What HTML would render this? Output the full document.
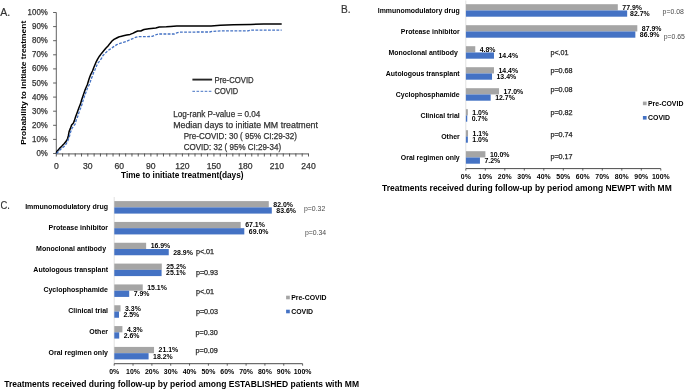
<!DOCTYPE html>
<html><head><meta charset="utf-8"><style>
html,body{margin:0;padding:0;background:#fff;width:685px;height:389px;overflow:hidden;}
svg{display:block;will-change:transform;font-family:"Liberation Sans", sans-serif;}
</style></head><body>
<svg width="685" height="389" viewBox="0 0 685 389" font-family='"Liberation Sans", sans-serif'>
<text x="0.20" y="15.90" font-size="11.6" font-weight="normal" text-anchor="start" fill="#333333" stroke="#333333" stroke-width="0.2" textLength="10.00" lengthAdjust="spacingAndGlyphs" >A.</text>
<line x1="56.30" y1="12.50" x2="56.30" y2="153.50" stroke="#505050" stroke-width="0.9" />
<line x1="53.10" y1="153.50" x2="56.30" y2="153.50" stroke="#505050" stroke-width="0.9" />
<text x="47.80" y="156.00" font-size="8.4" font-weight="normal" text-anchor="end" fill="#333333" stroke="#333333" stroke-width="0.25" textLength="11.41" lengthAdjust="spacingAndGlyphs" >0%</text>
<line x1="53.10" y1="139.40" x2="56.30" y2="139.40" stroke="#505050" stroke-width="0.9" />
<text x="47.80" y="141.90" font-size="8.4" font-weight="normal" text-anchor="end" fill="#333333" stroke="#333333" stroke-width="0.25" textLength="15.80" lengthAdjust="spacingAndGlyphs" >10%</text>
<line x1="53.10" y1="125.30" x2="56.30" y2="125.30" stroke="#505050" stroke-width="0.9" />
<text x="47.80" y="127.80" font-size="8.4" font-weight="normal" text-anchor="end" fill="#333333" stroke="#333333" stroke-width="0.25" textLength="15.80" lengthAdjust="spacingAndGlyphs" >20%</text>
<line x1="53.10" y1="111.20" x2="56.30" y2="111.20" stroke="#505050" stroke-width="0.9" />
<text x="47.80" y="113.70" font-size="8.4" font-weight="normal" text-anchor="end" fill="#333333" stroke="#333333" stroke-width="0.25" textLength="15.80" lengthAdjust="spacingAndGlyphs" >30%</text>
<line x1="53.10" y1="97.10" x2="56.30" y2="97.10" stroke="#505050" stroke-width="0.9" />
<text x="47.80" y="99.60" font-size="8.4" font-weight="normal" text-anchor="end" fill="#333333" stroke="#333333" stroke-width="0.25" textLength="15.80" lengthAdjust="spacingAndGlyphs" >40%</text>
<line x1="53.10" y1="83.00" x2="56.30" y2="83.00" stroke="#505050" stroke-width="0.9" />
<text x="47.80" y="85.50" font-size="8.4" font-weight="normal" text-anchor="end" fill="#333333" stroke="#333333" stroke-width="0.25" textLength="15.80" lengthAdjust="spacingAndGlyphs" >50%</text>
<line x1="53.10" y1="68.90" x2="56.30" y2="68.90" stroke="#505050" stroke-width="0.9" />
<text x="47.80" y="71.40" font-size="8.4" font-weight="normal" text-anchor="end" fill="#333333" stroke="#333333" stroke-width="0.25" textLength="15.80" lengthAdjust="spacingAndGlyphs" >60%</text>
<line x1="53.10" y1="54.80" x2="56.30" y2="54.80" stroke="#505050" stroke-width="0.9" />
<text x="47.80" y="57.30" font-size="8.4" font-weight="normal" text-anchor="end" fill="#333333" stroke="#333333" stroke-width="0.25" textLength="15.80" lengthAdjust="spacingAndGlyphs" >70%</text>
<line x1="53.10" y1="40.70" x2="56.30" y2="40.70" stroke="#505050" stroke-width="0.9" />
<text x="47.80" y="43.20" font-size="8.4" font-weight="normal" text-anchor="end" fill="#333333" stroke="#333333" stroke-width="0.25" textLength="15.80" lengthAdjust="spacingAndGlyphs" >80%</text>
<line x1="53.10" y1="26.60" x2="56.30" y2="26.60" stroke="#505050" stroke-width="0.9" />
<text x="47.80" y="29.10" font-size="8.4" font-weight="normal" text-anchor="end" fill="#333333" stroke="#333333" stroke-width="0.25" textLength="15.80" lengthAdjust="spacingAndGlyphs" >90%</text>
<line x1="53.10" y1="12.50" x2="56.30" y2="12.50" stroke="#505050" stroke-width="0.9" />
<text x="47.80" y="15.00" font-size="8.4" font-weight="normal" text-anchor="end" fill="#333333" stroke="#333333" stroke-width="0.25" textLength="20.19" lengthAdjust="spacingAndGlyphs" >100%</text>
<line x1="56.30" y1="153.80" x2="308.50" y2="153.80" stroke="#7a7a7a" stroke-width="1.3" />
<line x1="56.30" y1="153.50" x2="56.30" y2="156.50" stroke="#404040" stroke-width="0.85" />
<line x1="62.60" y1="153.50" x2="62.60" y2="156.50" stroke="#404040" stroke-width="0.85" />
<line x1="68.91" y1="153.50" x2="68.91" y2="156.50" stroke="#404040" stroke-width="0.85" />
<line x1="75.22" y1="153.50" x2="75.22" y2="156.50" stroke="#404040" stroke-width="0.85" />
<line x1="81.52" y1="153.50" x2="81.52" y2="156.50" stroke="#404040" stroke-width="0.85" />
<line x1="87.82" y1="153.50" x2="87.82" y2="156.50" stroke="#404040" stroke-width="0.85" />
<line x1="94.13" y1="153.50" x2="94.13" y2="156.50" stroke="#404040" stroke-width="0.85" />
<line x1="100.44" y1="153.50" x2="100.44" y2="156.50" stroke="#404040" stroke-width="0.85" />
<line x1="106.74" y1="153.50" x2="106.74" y2="156.50" stroke="#404040" stroke-width="0.85" />
<line x1="113.04" y1="153.50" x2="113.04" y2="156.50" stroke="#404040" stroke-width="0.85" />
<line x1="119.35" y1="153.50" x2="119.35" y2="156.50" stroke="#404040" stroke-width="0.85" />
<line x1="125.66" y1="153.50" x2="125.66" y2="156.50" stroke="#404040" stroke-width="0.85" />
<line x1="131.96" y1="153.50" x2="131.96" y2="156.50" stroke="#404040" stroke-width="0.85" />
<line x1="138.26" y1="153.50" x2="138.26" y2="156.50" stroke="#404040" stroke-width="0.85" />
<line x1="144.57" y1="153.50" x2="144.57" y2="156.50" stroke="#404040" stroke-width="0.85" />
<line x1="150.88" y1="153.50" x2="150.88" y2="156.50" stroke="#404040" stroke-width="0.85" />
<line x1="157.18" y1="153.50" x2="157.18" y2="156.50" stroke="#404040" stroke-width="0.85" />
<line x1="163.48" y1="153.50" x2="163.48" y2="156.50" stroke="#404040" stroke-width="0.85" />
<line x1="169.79" y1="153.50" x2="169.79" y2="156.50" stroke="#404040" stroke-width="0.85" />
<line x1="176.09" y1="153.50" x2="176.09" y2="156.50" stroke="#404040" stroke-width="0.85" />
<line x1="182.40" y1="153.50" x2="182.40" y2="156.50" stroke="#404040" stroke-width="0.85" />
<line x1="188.70" y1="153.50" x2="188.70" y2="156.50" stroke="#404040" stroke-width="0.85" />
<line x1="195.01" y1="153.50" x2="195.01" y2="156.50" stroke="#404040" stroke-width="0.85" />
<line x1="201.31" y1="153.50" x2="201.31" y2="156.50" stroke="#404040" stroke-width="0.85" />
<line x1="207.62" y1="153.50" x2="207.62" y2="156.50" stroke="#404040" stroke-width="0.85" />
<line x1="213.93" y1="153.50" x2="213.93" y2="156.50" stroke="#404040" stroke-width="0.85" />
<line x1="220.23" y1="153.50" x2="220.23" y2="156.50" stroke="#404040" stroke-width="0.85" />
<line x1="226.54" y1="153.50" x2="226.54" y2="156.50" stroke="#404040" stroke-width="0.85" />
<line x1="232.84" y1="153.50" x2="232.84" y2="156.50" stroke="#404040" stroke-width="0.85" />
<line x1="239.14" y1="153.50" x2="239.14" y2="156.50" stroke="#404040" stroke-width="0.85" />
<line x1="245.45" y1="153.50" x2="245.45" y2="156.50" stroke="#404040" stroke-width="0.85" />
<line x1="251.75" y1="153.50" x2="251.75" y2="156.50" stroke="#404040" stroke-width="0.85" />
<line x1="258.06" y1="153.50" x2="258.06" y2="156.50" stroke="#404040" stroke-width="0.85" />
<line x1="264.37" y1="153.50" x2="264.37" y2="156.50" stroke="#404040" stroke-width="0.85" />
<line x1="270.67" y1="153.50" x2="270.67" y2="156.50" stroke="#404040" stroke-width="0.85" />
<line x1="276.98" y1="153.50" x2="276.98" y2="156.50" stroke="#404040" stroke-width="0.85" />
<line x1="283.28" y1="153.50" x2="283.28" y2="156.50" stroke="#404040" stroke-width="0.85" />
<line x1="289.58" y1="153.50" x2="289.58" y2="156.50" stroke="#404040" stroke-width="0.85" />
<line x1="295.89" y1="153.50" x2="295.89" y2="156.50" stroke="#404040" stroke-width="0.85" />
<line x1="302.19" y1="153.50" x2="302.19" y2="156.50" stroke="#404040" stroke-width="0.85" />
<line x1="308.50" y1="153.50" x2="308.50" y2="156.50" stroke="#404040" stroke-width="0.85" />
<text x="56.30" y="169.00" font-size="8.6" font-weight="normal" text-anchor="middle" fill="#333333" stroke="#333333" stroke-width="0.25" >0</text>
<text x="87.82" y="169.00" font-size="8.6" font-weight="normal" text-anchor="middle" fill="#333333" stroke="#333333" stroke-width="0.25" >30</text>
<text x="119.35" y="169.00" font-size="8.6" font-weight="normal" text-anchor="middle" fill="#333333" stroke="#333333" stroke-width="0.25" >60</text>
<text x="150.88" y="169.00" font-size="8.6" font-weight="normal" text-anchor="middle" fill="#333333" stroke="#333333" stroke-width="0.25" >90</text>
<text x="182.40" y="169.00" font-size="8.6" font-weight="normal" text-anchor="middle" fill="#333333" stroke="#333333" stroke-width="0.25" >120</text>
<text x="213.93" y="169.00" font-size="8.6" font-weight="normal" text-anchor="middle" fill="#333333" stroke="#333333" stroke-width="0.25" >150</text>
<text x="245.45" y="169.00" font-size="8.6" font-weight="normal" text-anchor="middle" fill="#333333" stroke="#333333" stroke-width="0.25" >180</text>
<text x="276.98" y="169.00" font-size="8.6" font-weight="normal" text-anchor="middle" fill="#333333" stroke="#333333" stroke-width="0.25" >210</text>
<text x="308.50" y="169.00" font-size="8.6" font-weight="normal" text-anchor="middle" fill="#333333" stroke="#333333" stroke-width="0.25" >240</text>
<text x="182.30" y="177.60" font-size="8.27" font-weight="bold" text-anchor="middle" fill="#000" textLength="122.50" lengthAdjust="spacingAndGlyphs" >Time to initiate treatment(days)</text>
<text x="0" y="0" font-size="8.1" font-weight="bold" text-anchor="middle" fill="#000" textLength="124" lengthAdjust="spacingAndGlyphs" transform="translate(26.2,82.8) rotate(-90)">Probability to initiate treatment</text>
<polyline points="56.4,153.3 56.8,151.4 59.1,148.9 61.7,146.3 64.3,143.5 66.3,141.1 67.6,138.5 68.4,135.5 69.1,131.6 70.4,128.4 71.6,125.1 73.3,123.2 74.4,120.6 75.6,116.7 77.3,112.2 78.9,107.7 80.5,103.9 81.6,100.0 83.4,94.7 85.3,89.3 87.3,84.7 89.2,78.5 90.7,74.6 92.5,71.0 94.0,67.0 95.8,62.7 97.6,59.1 99.4,56.2 101.5,53.4 103.7,50.8 105.8,48.3 108.0,46.0 110.0,43.4 112.0,41.0 114.0,39.4 116.7,38.0 118.7,37.0 120.7,36.4 123.4,35.7 126.7,35.0 130.1,34.4 132.7,33.4 135.4,32.0 137.7,31.0 140.8,31.0 142.8,30.0 144.0,29.5 148.8,28.8 155.8,27.9 159.3,27.0 166.3,26.8 170.6,26.5 176.8,26.1 198.0,26.1 211.1,25.9 220.3,25.2 233.5,24.7 250.6,24.4 263.7,24.1 281.7,23.9" fill="none" stroke="#000" stroke-width="1.5" stroke-linejoin="round"/>
<polyline points="56.5,153.5 57.1,153.0 59.1,150.9 61.7,148.3 64.3,146.3 66.3,143.7 68.1,140.1 69.4,136.5 70.6,132.0 71.9,128.5 73.6,126.0 75.0,124.4 76.3,119.9 77.9,116.1 79.2,111.6 80.8,107.7 82.4,103.2 83.4,99.0 85.7,93.1 87.3,88.5 89.6,83.9 91.1,79.3 92.3,76.2 93.4,73.1 94.7,70.5 96.1,67.0 97.6,63.4 99.4,61.3 101.5,58.4 103.0,55.5 105.1,53.4 107.3,51.2 109.4,49.6 111.6,48.3 113.3,46.9 116.7,44.7 120.0,43.4 123.4,42.4 126.7,41.4 129.4,40.0 132.7,38.7 135.4,37.4 138.1,36.7 144.0,36.7 152.3,36.4 154.9,35.1 158.4,34.0 174.2,34.0 176.8,32.9 179.4,32.2 198.0,32.0 209.8,32.0 212.5,31.4 221.7,30.8 247.9,30.8 250.6,30.2 281.7,30.2" fill="none" stroke="#4472c4" stroke-width="1.3" stroke-dasharray="2.8 1.4"/>
<line x1="192.40" y1="79.60" x2="212.10" y2="79.60" stroke="#262626" stroke-width="1.9" />
<text x="214.60" y="82.60" font-size="8.4" font-weight="normal" text-anchor="start" fill="#333333" stroke="#333333" stroke-width="0.25" textLength="39.10" lengthAdjust="spacingAndGlyphs" >Pre-COVID</text>
<line x1="192.40" y1="91.30" x2="212.10" y2="91.30" stroke="#4472c4" stroke-width="1.0" stroke-dasharray="2.6 1.5"/>
<text x="214.60" y="94.30" font-size="8.4" font-weight="normal" text-anchor="start" fill="#333333" stroke="#333333" stroke-width="0.25" textLength="23.50" lengthAdjust="spacingAndGlyphs" >COVID</text>
<text x="173.20" y="117.00" font-size="8.6" font-weight="normal" text-anchor="start" fill="#333333" stroke="#333333" stroke-width="0.25" textLength="87.10" lengthAdjust="spacingAndGlyphs" >Log-rank P-value = 0.04</text>
<text x="173.20" y="128.10" font-size="8.6" font-weight="normal" text-anchor="start" fill="#333333" stroke="#333333" stroke-width="0.25" textLength="144.80" lengthAdjust="spacingAndGlyphs" >Median days to initiate MM treatment</text>
<text x="183.70" y="139.30" font-size="8.6" font-weight="normal" text-anchor="start" fill="#333333" stroke="#333333" stroke-width="0.25" textLength="113.30" lengthAdjust="spacingAndGlyphs" >Pre-COVID: 30 ( 95% CI:29-32)</text>
<text x="183.70" y="150.30" font-size="8.6" font-weight="normal" text-anchor="start" fill="#333333" stroke="#333333" stroke-width="0.25" textLength="97.40" lengthAdjust="spacingAndGlyphs" >COVID: 32 ( 95% CI:29-34)</text>
<line x1="465.80" y1="0.50" x2="465.80" y2="168.60" stroke="#d9d9d9" stroke-width="0.8" />
<rect x="465.90" y="4.20" width="151.90" height="6.25" fill="#a5a5a5"/>
<rect x="465.90" y="10.45" width="161.26" height="6.25" fill="#4472c4"/>
<text x="622.30" y="9.72" font-size="6.93" font-weight="bold" text-anchor="start" fill="#000" >77.9%</text>
<text x="630.06" y="15.97" font-size="6.93" font-weight="bold" text-anchor="start" fill="#000" >82.7%</text>
<text x="459.70" y="12.85" font-size="6.93" font-weight="bold" text-anchor="end" fill="#000" >Immunomodulatory drug</text>
<rect x="465.90" y="25.20" width="171.40" height="6.25" fill="#a5a5a5"/>
<rect x="465.90" y="31.45" width="169.45" height="6.25" fill="#4472c4"/>
<text x="641.80" y="30.72" font-size="6.93" font-weight="bold" text-anchor="start" fill="#000" >87.9%</text>
<text x="639.86" y="36.98" font-size="6.93" font-weight="bold" text-anchor="start" fill="#000" >86.9%</text>
<text x="459.70" y="33.85" font-size="6.93" font-weight="bold" text-anchor="end" fill="#000" >Protease inhibitor</text>
<rect x="465.90" y="46.20" width="9.36" height="6.25" fill="#a5a5a5"/>
<rect x="465.90" y="52.45" width="28.08" height="6.25" fill="#4472c4"/>
<text x="479.76" y="51.73" font-size="6.93" font-weight="bold" text-anchor="start" fill="#000" >4.8%</text>
<text x="498.48" y="57.98" font-size="6.93" font-weight="bold" text-anchor="start" fill="#000" >14.4%</text>
<text x="459.70" y="54.85" font-size="6.93" font-weight="bold" text-anchor="end" fill="#000" >Monoclonal&#160;antibody&#160;</text>
<rect x="465.90" y="67.20" width="28.08" height="6.25" fill="#a5a5a5"/>
<rect x="465.90" y="73.45" width="26.13" height="6.25" fill="#4472c4"/>
<text x="498.48" y="72.73" font-size="6.93" font-weight="bold" text-anchor="start" fill="#000" >14.4%</text>
<text x="496.53" y="78.98" font-size="6.93" font-weight="bold" text-anchor="start" fill="#000" >13.4%</text>
<text x="459.70" y="75.85" font-size="6.93" font-weight="bold" text-anchor="end" fill="#000" >Autologous transplant</text>
<rect x="465.90" y="88.20" width="33.15" height="6.25" fill="#a5a5a5"/>
<rect x="465.90" y="94.45" width="24.76" height="6.25" fill="#4472c4"/>
<text x="503.55" y="93.73" font-size="6.93" font-weight="bold" text-anchor="start" fill="#000" >17.0%</text>
<text x="495.17" y="99.98" font-size="6.93" font-weight="bold" text-anchor="start" fill="#000" >12.7%</text>
<text x="459.70" y="96.85" font-size="6.93" font-weight="bold" text-anchor="end" fill="#000" >Cyclophosphamide</text>
<rect x="465.90" y="109.20" width="1.95" height="6.25" fill="#a5a5a5"/>
<rect x="465.90" y="115.45" width="1.36" height="6.25" fill="#4472c4"/>
<text x="472.35" y="114.73" font-size="6.93" font-weight="bold" text-anchor="start" fill="#000" >1.0%</text>
<text x="471.77" y="120.98" font-size="6.93" font-weight="bold" text-anchor="start" fill="#000" >0.7%</text>
<text x="459.70" y="117.85" font-size="6.93" font-weight="bold" text-anchor="end" fill="#000" >Clinical trial</text>
<rect x="465.90" y="130.20" width="2.14" height="6.25" fill="#a5a5a5"/>
<rect x="465.90" y="136.45" width="1.95" height="6.25" fill="#4472c4"/>
<text x="472.55" y="135.72" font-size="6.93" font-weight="bold" text-anchor="start" fill="#000" >1.1%</text>
<text x="472.35" y="141.97" font-size="6.93" font-weight="bold" text-anchor="start" fill="#000" >1.0%</text>
<text x="459.70" y="138.85" font-size="6.93" font-weight="bold" text-anchor="end" fill="#000" >Other</text>
<rect x="465.90" y="151.20" width="19.50" height="6.25" fill="#a5a5a5"/>
<rect x="465.90" y="157.45" width="14.04" height="6.25" fill="#4472c4"/>
<text x="489.90" y="156.72" font-size="6.93" font-weight="bold" text-anchor="start" fill="#000" >10.0%</text>
<text x="484.44" y="162.97" font-size="6.93" font-weight="bold" text-anchor="start" fill="#000" >7.2%</text>
<text x="459.70" y="159.85" font-size="6.93" font-weight="bold" text-anchor="end" fill="#000" >Oral regimen only</text>
<text x="662.60" y="14.00" font-size="6.9" font-weight="normal" text-anchor="start" fill="#4a4a4a" >p=0.08</text>
<text x="663.70" y="38.50" font-size="6.9" font-weight="normal" text-anchor="start" fill="#4a4a4a" >p=0.65</text>
<text x="550.40" y="55.20" font-size="7.2" font-weight="normal" text-anchor="start" fill="#262626" stroke="#262626" stroke-width="0.25" >p&lt;.01</text>
<text x="550.40" y="72.90" font-size="7.2" font-weight="normal" text-anchor="start" fill="#262626" stroke="#262626" stroke-width="0.25" >p=0.68</text>
<text x="550.40" y="91.80" font-size="7.2" font-weight="normal" text-anchor="start" fill="#262626" stroke="#262626" stroke-width="0.25" >p=0.08</text>
<text x="550.40" y="114.50" font-size="7.2" font-weight="normal" text-anchor="start" fill="#262626" stroke="#262626" stroke-width="0.25" >p=0.82</text>
<text x="550.40" y="136.80" font-size="7.2" font-weight="normal" text-anchor="start" fill="#262626" stroke="#262626" stroke-width="0.25" >p=0.74</text>
<text x="550.40" y="158.60" font-size="7.2" font-weight="normal" text-anchor="start" fill="#262626" stroke="#262626" stroke-width="0.25" >p=0.17</text>
<line x1="465.80" y1="168.60" x2="660.80" y2="168.60" stroke="#383838" stroke-width="0.9" />
<line x1="465.80" y1="168.60" x2="465.80" y2="170.60" stroke="#383838" stroke-width="0.8" />
<text x="465.80" y="179.10" font-size="6.93" font-weight="bold" text-anchor="middle" fill="#000" >0%</text>
<line x1="485.30" y1="168.60" x2="485.30" y2="170.60" stroke="#383838" stroke-width="0.8" />
<text x="485.30" y="179.10" font-size="6.93" font-weight="bold" text-anchor="middle" fill="#000" >10%</text>
<line x1="504.80" y1="168.60" x2="504.80" y2="170.60" stroke="#383838" stroke-width="0.8" />
<text x="504.80" y="179.10" font-size="6.93" font-weight="bold" text-anchor="middle" fill="#000" >20%</text>
<line x1="524.30" y1="168.60" x2="524.30" y2="170.60" stroke="#383838" stroke-width="0.8" />
<text x="524.30" y="179.10" font-size="6.93" font-weight="bold" text-anchor="middle" fill="#000" >30%</text>
<line x1="543.80" y1="168.60" x2="543.80" y2="170.60" stroke="#383838" stroke-width="0.8" />
<text x="543.80" y="179.10" font-size="6.93" font-weight="bold" text-anchor="middle" fill="#000" >40%</text>
<line x1="563.30" y1="168.60" x2="563.30" y2="170.60" stroke="#383838" stroke-width="0.8" />
<text x="563.30" y="179.10" font-size="6.93" font-weight="bold" text-anchor="middle" fill="#000" >50%</text>
<line x1="582.80" y1="168.60" x2="582.80" y2="170.60" stroke="#383838" stroke-width="0.8" />
<text x="582.80" y="179.10" font-size="6.93" font-weight="bold" text-anchor="middle" fill="#000" >60%</text>
<line x1="602.30" y1="168.60" x2="602.30" y2="170.60" stroke="#383838" stroke-width="0.8" />
<text x="602.30" y="179.10" font-size="6.93" font-weight="bold" text-anchor="middle" fill="#000" >70%</text>
<line x1="621.80" y1="168.60" x2="621.80" y2="170.60" stroke="#383838" stroke-width="0.8" />
<text x="621.80" y="179.10" font-size="6.93" font-weight="bold" text-anchor="middle" fill="#000" >80%</text>
<line x1="641.30" y1="168.60" x2="641.30" y2="170.60" stroke="#383838" stroke-width="0.8" />
<text x="641.30" y="179.10" font-size="6.93" font-weight="bold" text-anchor="middle" fill="#000" >90%</text>
<line x1="660.80" y1="168.60" x2="660.80" y2="170.60" stroke="#383838" stroke-width="0.8" />
<text x="660.80" y="179.10" font-size="6.93" font-weight="bold" text-anchor="middle" fill="#000" >100%</text>
<text x="382.10" y="191.00" font-size="8.5" font-weight="bold" text-anchor="start" fill="#000" textLength="289.60" lengthAdjust="spacingAndGlyphs" >Treatments received during follow-up by period among NEWPT with MM</text>
<rect x="642.90" y="101.60" width="3.70" height="3.60" fill="#a5a5a5"/>
<text x="648.00" y="105.80" font-size="6.93" font-weight="bold" text-anchor="start" fill="#000" >Pre-COVID</text>
<rect x="642.90" y="116.00" width="3.70" height="3.60" fill="#4472c4"/>
<text x="648.00" y="120.20" font-size="6.93" font-weight="bold" text-anchor="start" fill="#000" >COVID</text>
<text x="341.00" y="13.00" font-size="11.6" font-weight="normal" text-anchor="start" fill="#333333" stroke="#333333" stroke-width="0.2" textLength="9.60" lengthAdjust="spacingAndGlyphs" >B.</text>
<line x1="114.20" y1="197.00" x2="114.20" y2="363.70" stroke="#d9d9d9" stroke-width="0.8" />
<rect x="114.30" y="201.10" width="154.49" height="6.25" fill="#a5a5a5"/>
<rect x="114.30" y="207.35" width="157.50" height="6.25" fill="#4472c4"/>
<text x="273.29" y="206.62" font-size="6.93" font-weight="bold" text-anchor="start" fill="#000" >82.0%</text>
<text x="276.30" y="212.88" font-size="6.93" font-weight="bold" text-anchor="start" fill="#000" >83.6%</text>
<text x="108.00" y="209.05" font-size="7.0" font-weight="bold" text-anchor="end" fill="#000" >Immunomodulatory drug</text>
<rect x="114.30" y="221.93" width="126.42" height="6.25" fill="#a5a5a5"/>
<rect x="114.30" y="228.18" width="130.00" height="6.25" fill="#4472c4"/>
<text x="245.22" y="227.46" font-size="6.93" font-weight="bold" text-anchor="start" fill="#000" >67.1%</text>
<text x="248.80" y="233.71" font-size="6.93" font-weight="bold" text-anchor="start" fill="#000" >69.0%</text>
<text x="108.00" y="229.88" font-size="7.0" font-weight="bold" text-anchor="end" fill="#000" >Protease inhibitor</text>
<rect x="114.30" y="242.76" width="31.84" height="6.25" fill="#a5a5a5"/>
<rect x="114.30" y="249.01" width="54.45" height="6.25" fill="#4472c4"/>
<text x="150.64" y="248.28" font-size="6.93" font-weight="bold" text-anchor="start" fill="#000" >16.9%</text>
<text x="173.25" y="254.53" font-size="6.93" font-weight="bold" text-anchor="start" fill="#000" >28.9%</text>
<text x="108.00" y="250.71" font-size="7.0" font-weight="bold" text-anchor="end" fill="#000" >Monoclonal&#160;antibody&#160;</text>
<rect x="114.30" y="263.59" width="47.48" height="6.25" fill="#a5a5a5"/>
<rect x="114.30" y="269.84" width="47.29" height="6.25" fill="#4472c4"/>
<text x="166.28" y="269.11" font-size="6.93" font-weight="bold" text-anchor="start" fill="#000" >25.2%</text>
<text x="166.09" y="275.36" font-size="6.93" font-weight="bold" text-anchor="start" fill="#000" >25.1%</text>
<text x="108.00" y="271.54" font-size="7.0" font-weight="bold" text-anchor="end" fill="#000" >Autologous transplant</text>
<rect x="114.30" y="284.42" width="28.45" height="6.25" fill="#a5a5a5"/>
<rect x="114.30" y="290.67" width="14.88" height="6.25" fill="#4472c4"/>
<text x="147.25" y="289.94" font-size="6.93" font-weight="bold" text-anchor="start" fill="#000" >15.1%</text>
<text x="133.68" y="296.19" font-size="6.93" font-weight="bold" text-anchor="start" fill="#000" >7.9%</text>
<text x="108.00" y="292.37" font-size="7.0" font-weight="bold" text-anchor="end" fill="#000" >Cyclophosphamide</text>
<rect x="114.30" y="305.25" width="6.22" height="6.25" fill="#a5a5a5"/>
<rect x="114.30" y="311.50" width="4.71" height="6.25" fill="#4472c4"/>
<text x="125.02" y="310.77" font-size="6.93" font-weight="bold" text-anchor="start" fill="#000" >3.3%</text>
<text x="123.51" y="317.02" font-size="6.93" font-weight="bold" text-anchor="start" fill="#000" >2.5%</text>
<text x="108.00" y="313.20" font-size="7.0" font-weight="bold" text-anchor="end" fill="#000" >Clinical trial</text>
<rect x="114.30" y="326.08" width="8.10" height="6.25" fill="#a5a5a5"/>
<rect x="114.30" y="332.33" width="4.90" height="6.25" fill="#4472c4"/>
<text x="126.90" y="331.60" font-size="6.93" font-weight="bold" text-anchor="start" fill="#000" >4.3%</text>
<text x="123.70" y="337.85" font-size="6.93" font-weight="bold" text-anchor="start" fill="#000" >2.6%</text>
<text x="108.00" y="334.03" font-size="7.0" font-weight="bold" text-anchor="end" fill="#000" >Other</text>
<rect x="114.30" y="346.91" width="39.75" height="6.25" fill="#a5a5a5"/>
<rect x="114.30" y="353.16" width="34.29" height="6.25" fill="#4472c4"/>
<text x="158.55" y="352.43" font-size="6.93" font-weight="bold" text-anchor="start" fill="#000" >21.1%</text>
<text x="153.09" y="358.68" font-size="6.93" font-weight="bold" text-anchor="start" fill="#000" >18.2%</text>
<text x="108.00" y="354.86" font-size="7.0" font-weight="bold" text-anchor="end" fill="#000" >Oral regimen only</text>
<text x="304.00" y="211.30" font-size="6.9" font-weight="normal" text-anchor="start" fill="#4a4a4a" >p=0.32</text>
<text x="304.90" y="235.40" font-size="6.9" font-weight="normal" text-anchor="start" fill="#4a4a4a" >p=0.34</text>
<text x="195.90" y="254.20" font-size="7.2" font-weight="normal" text-anchor="start" fill="#262626" stroke="#262626" stroke-width="0.25" >p&lt;.01</text>
<text x="195.90" y="274.80" font-size="7.2" font-weight="normal" text-anchor="start" fill="#262626" stroke="#262626" stroke-width="0.25" >p=0.93</text>
<text x="195.90" y="294.30" font-size="7.2" font-weight="normal" text-anchor="start" fill="#262626" stroke="#262626" stroke-width="0.25" >p&lt;.01</text>
<text x="195.90" y="314.30" font-size="7.2" font-weight="normal" text-anchor="start" fill="#262626" stroke="#262626" stroke-width="0.25" >p=0.03</text>
<text x="195.60" y="334.90" font-size="7.2" font-weight="normal" text-anchor="start" fill="#262626" stroke="#262626" stroke-width="0.25" >p=0.30</text>
<text x="195.60" y="352.70" font-size="7.2" font-weight="normal" text-anchor="start" fill="#262626" stroke="#262626" stroke-width="0.25" >p=0.09</text>
<line x1="114.20" y1="363.70" x2="302.60" y2="363.70" stroke="#383838" stroke-width="0.9" />
<line x1="114.20" y1="363.70" x2="114.20" y2="365.70" stroke="#383838" stroke-width="0.8" />
<text x="114.20" y="373.60" font-size="6.93" font-weight="bold" text-anchor="middle" fill="#000" >0%</text>
<line x1="133.04" y1="363.70" x2="133.04" y2="365.70" stroke="#383838" stroke-width="0.8" />
<text x="133.04" y="373.60" font-size="6.93" font-weight="bold" text-anchor="middle" fill="#000" >10%</text>
<line x1="151.88" y1="363.70" x2="151.88" y2="365.70" stroke="#383838" stroke-width="0.8" />
<text x="151.88" y="373.60" font-size="6.93" font-weight="bold" text-anchor="middle" fill="#000" >20%</text>
<line x1="170.72" y1="363.70" x2="170.72" y2="365.70" stroke="#383838" stroke-width="0.8" />
<text x="170.72" y="373.60" font-size="6.93" font-weight="bold" text-anchor="middle" fill="#000" >30%</text>
<line x1="189.56" y1="363.70" x2="189.56" y2="365.70" stroke="#383838" stroke-width="0.8" />
<text x="189.56" y="373.60" font-size="6.93" font-weight="bold" text-anchor="middle" fill="#000" >40%</text>
<line x1="208.40" y1="363.70" x2="208.40" y2="365.70" stroke="#383838" stroke-width="0.8" />
<text x="208.40" y="373.60" font-size="6.93" font-weight="bold" text-anchor="middle" fill="#000" >50%</text>
<line x1="227.24" y1="363.70" x2="227.24" y2="365.70" stroke="#383838" stroke-width="0.8" />
<text x="227.24" y="373.60" font-size="6.93" font-weight="bold" text-anchor="middle" fill="#000" >60%</text>
<line x1="246.08" y1="363.70" x2="246.08" y2="365.70" stroke="#383838" stroke-width="0.8" />
<text x="246.08" y="373.60" font-size="6.93" font-weight="bold" text-anchor="middle" fill="#000" >70%</text>
<line x1="264.92" y1="363.70" x2="264.92" y2="365.70" stroke="#383838" stroke-width="0.8" />
<text x="264.92" y="373.60" font-size="6.93" font-weight="bold" text-anchor="middle" fill="#000" >80%</text>
<line x1="283.76" y1="363.70" x2="283.76" y2="365.70" stroke="#383838" stroke-width="0.8" />
<text x="283.76" y="373.60" font-size="6.93" font-weight="bold" text-anchor="middle" fill="#000" >90%</text>
<line x1="302.60" y1="363.70" x2="302.60" y2="365.70" stroke="#383838" stroke-width="0.8" />
<text x="302.60" y="373.60" font-size="6.93" font-weight="bold" text-anchor="middle" fill="#000" >100%</text>
<text x="4.20" y="387.30" font-size="8.5" font-weight="bold" text-anchor="start" fill="#000" textLength="354.80" lengthAdjust="spacingAndGlyphs" >Treatments received during follow-up by period among ESTABLISHED patients with MM</text>
<rect x="286.10" y="295.70" width="3.70" height="3.60" fill="#a5a5a5"/>
<text x="291.20" y="299.90" font-size="6.93" font-weight="bold" text-anchor="start" fill="#000" >Pre-COVID</text>
<rect x="286.10" y="309.70" width="3.70" height="3.60" fill="#4472c4"/>
<text x="291.20" y="313.90" font-size="6.93" font-weight="bold" text-anchor="start" fill="#000" >COVID</text>
<text x="0.50" y="209.10" font-size="11.6" font-weight="normal" text-anchor="start" fill="#333333" stroke="#333333" stroke-width="0.2" textLength="9.40" lengthAdjust="spacingAndGlyphs" >C.</text>
</svg>
</body></html>
